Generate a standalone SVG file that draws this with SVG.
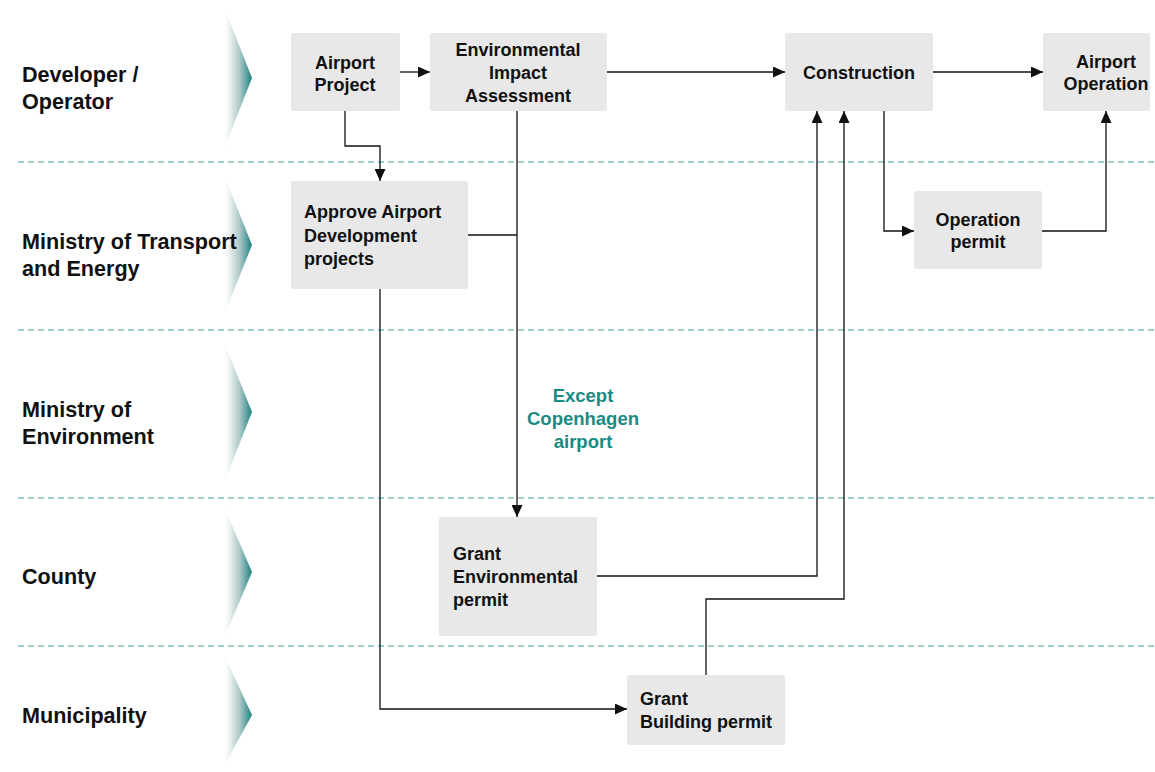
<svg xmlns="http://www.w3.org/2000/svg" width="1155" height="772" viewBox="0 0 1155 772">
<style>
.lane{font-family:"Liberation Sans",Arial,sans-serif;font-weight:bold;font-size:21.6px;fill:#111}
.bt{font-family:"Liberation Sans",Arial,sans-serif;font-weight:bold;font-size:18px;fill:#111}
.c{text-anchor:middle}
.note{font-family:"Liberation Sans",Arial,sans-serif;font-weight:bold;font-size:18.5px;fill:#1a8a84;text-anchor:middle}
.box{fill:#e8e8e8}
.sep{stroke:#7cc6c6;stroke-width:1.3;stroke-dasharray:6 4;fill:none}
.cn{stroke:#111;stroke-width:1.3;fill:none}
.arr{marker-end:url(#ah)}
.chev{fill:url(#g)}
</style>
<defs>
<linearGradient id="g" x1="0" y1="0" x2="1" y2="0">
<stop offset="0" stop-color="#ffffff" stop-opacity="0"/>
<stop offset="0.2" stop-color="#f4f7f7"/>
<stop offset="0.6" stop-color="#a9c6c6"/>
<stop offset="1" stop-color="#1a8282"/>
</linearGradient>
<marker id="ah" viewBox="0 0 12 11" refX="12" refY="5.5" markerWidth="12" markerHeight="11" markerUnits="userSpaceOnUse" orient="auto">
<path d="M0,0 L12,5.5 L0,11 z" fill="#111"/>
</marker>
</defs>

<g id="lanes">
<polygon class="chev" points="222,2 252,78 222,154"/>
<polygon class="chev" points="222,170 252,245 222,320"/>
<polygon class="chev" points="222,337 252,412 222,488"/>
<polygon class="chev" points="222,502 252,572 222,643"/>
<polygon class="chev" points="222,650 252,715 222,770"/>
<line class="sep" x1="18" y1="162" x2="1155" y2="162"/>
<line class="sep" x1="18" y1="330" x2="1155" y2="330"/>
<line class="sep" x1="18" y1="498" x2="1155" y2="498"/>
<line class="sep" x1="18" y1="646" x2="1155" y2="646"/>
<text class="lane" x="22" y="82">Developer /</text>
<text class="lane" x="22" y="109">Operator</text>
<text class="lane" x="22" y="249">Ministry of Transport</text>
<text class="lane" x="22" y="276">and Energy</text>
<text class="lane" x="22" y="417">Ministry of</text>
<text class="lane" x="22" y="444">Environment</text>
<text class="lane" x="22" y="584">County</text>
<text class="lane" x="22" y="723">Municipality</text>
</g>

<g id="connectors">
<line class="cn arr" x1="400" y1="72" x2="430" y2="72"/>
<line class="cn arr" x1="607" y1="72" x2="785" y2="72"/>
<line class="cn arr" x1="933" y1="72" x2="1043" y2="72"/>
<polyline class="cn arr" points="345,111 345,146 380,146 380,181"/>
<line class="cn arr" x1="517" y1="111" x2="517" y2="517"/>
<line class="cn" x1="468" y1="235" x2="517" y2="235"/>
<polyline class="cn arr" points="380,289 380,709 627,709"/>
<polyline class="cn arr" points="597,576 817,576 817,111"/>
<polyline class="cn arr" points="706,675 706,599 844,599 844,111"/>
<polyline class="cn arr" points="884,111 884,231 914,231"/>
<polyline class="cn arr" points="1042,231 1106,231 1106,111"/>
<text class="note" x="583" y="402">Except</text>
<text class="note" x="583" y="425">Copenhagen</text>
<text class="note" x="583" y="448">airport</text>
</g>

<g id="airport-project">
<rect class="box" x="291" y="33" width="109" height="78" rx="2"/>
<text class="bt c" x="345" y="69">Airport</text>
<text class="bt c" x="345" y="91">Project</text>
</g>
<g id="eia">
<rect class="box" x="430" y="33" width="177" height="78" rx="2"/>
<text class="bt c" x="518" y="56">Environmental</text>
<text class="bt c" x="518" y="79">Impact</text>
<text class="bt c" x="518" y="102">Assessment</text>
</g>
<g id="construction">
<rect class="box" x="785" y="33" width="148" height="78" rx="2"/>
<text class="bt c" x="859" y="79">Construction</text>
</g>
<g id="airport-operation">
<rect class="box" x="1043" y="33" width="107" height="78" rx="2"/>
<text class="bt c" x="1106" y="68">Airport</text>
<text class="bt c" x="1106" y="90">Operation</text>
</g>
<g id="approve">
<rect class="box" x="291" y="181" width="177" height="108" rx="2"/>
<text class="bt" x="304" y="218">Approve Airport</text>
<text class="bt" x="304" y="242">Development</text>
<text class="bt" x="304" y="265">projects</text>
</g>
<g id="operation-permit">
<rect class="box" x="914" y="191" width="128" height="78" rx="2"/>
<text class="bt c" x="978" y="226">Operation</text>
<text class="bt c" x="978" y="248">permit</text>
</g>
<g id="grant-env">
<rect class="box" x="439" y="517" width="158" height="119" rx="2"/>
<text class="bt" x="453" y="560">Grant</text>
<text class="bt" x="453" y="583">Environmental</text>
<text class="bt" x="453" y="606">permit</text>
</g>
<g id="grant-building">
<rect class="box" x="627" y="675" width="158" height="70" rx="2"/>
<text class="bt" x="640" y="705">Grant</text>
<text class="bt" x="640" y="728">Building permit</text>
</g>
</svg>
